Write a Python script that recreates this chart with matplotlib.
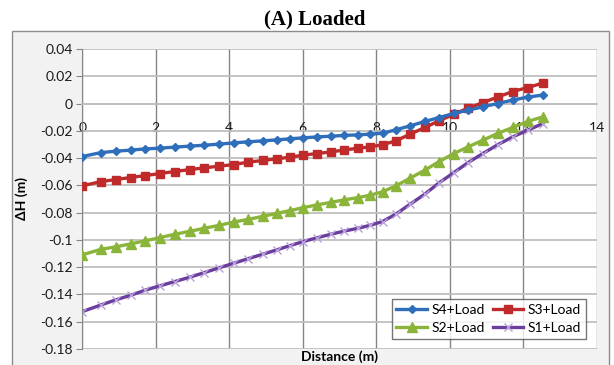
#!/usr/bin/env python3
"""Loaded-case height change along the section for the four stages."""

import matplotlib
matplotlib.use("Agg")
import matplotlib.pyplot as plt
from matplotlib.patches import Rectangle

plt.rcParams["axes.unicode_minus"] = False
plt.rcParams["font.family"] = ["Lato", "DejaVu Sans"]

distance = [0, 0.51, 0.91, 1.32, 1.71, 2.11, 2.51, 2.92, 3.32, 3.72, 4.12,
            4.52, 4.91, 5.29, 5.65, 6.01, 6.39, 6.77, 7.13, 7.51, 7.83, 8.17,
            8.53, 8.92, 9.32, 9.71, 10.11, 10.5, 10.9, 11.3, 11.71, 12.12, 12.53]

s4_load = [-0.0389, -0.0360, -0.0350, -0.0342, -0.0333, -0.0328, -0.0320,
           -0.0313, -0.0306, -0.0298, -0.0289, -0.0281, -0.0274, -0.0267,
           -0.0259, -0.0252, -0.0245, -0.0240, -0.0234, -0.0230, -0.0225,
           -0.0218, -0.0193, -0.0164, -0.0132, -0.0103, -0.0073, -0.0049,
           -0.0024, 0.0000, 0.0025, 0.0047, 0.0062]

s3_load = [-0.0604, -0.0573, -0.0558, -0.0543, -0.0529, -0.0514, -0.0499,
           -0.0485, -0.0472, -0.0460, -0.0448, -0.0430, -0.0418, -0.0406,
           -0.0394, -0.0379, -0.0367, -0.0355, -0.0341, -0.0328, -0.0318,
           -0.0303, -0.0274, -0.0225, -0.0176, -0.0127, -0.0078, -0.0034,
           0.0007, 0.0047, 0.0088, 0.0117, 0.0150]

s2_load = [-0.1110, -0.1070, -0.1052, -0.1030, -0.1008, -0.0984, -0.0960,
           -0.0938, -0.0916, -0.0894, -0.0870, -0.0850, -0.0828, -0.0806,
           -0.0786, -0.0764, -0.0744, -0.0725, -0.0707, -0.0690, -0.0673,
           -0.0648, -0.0604, -0.0548, -0.0489, -0.0426, -0.0367, -0.0318,
           -0.0269, -0.0220, -0.0176, -0.0132, -0.0098]

s1_load = [-0.1527, -0.1478, -0.1441, -0.1407, -0.1370, -0.1338, -0.1307,
           -0.1275, -0.1241, -0.1206, -0.1172, -0.1138, -0.1106, -0.1074,
           -0.1043, -0.1013, -0.0985, -0.0959, -0.0936, -0.0915, -0.0894,
           -0.0866, -0.0812, -0.0739, -0.0665, -0.0582, -0.0507, -0.0433,
           -0.0367, -0.0303, -0.0245, -0.0196, -0.0147]

x_ticks = [0, 2, 4, 6, 8, 10, 12, 14]
y_ticks = [0.04, 0.02, 0, -0.02, -0.04, -0.06, -0.08, -0.1, -0.12, -0.14,
           -0.16, -0.18]
y_tick_labels = ["0.04", "0.02", "0", "-0.02", "-0.04", "-0.06", "-0.08",
                 "-0.1", "-0.12", "-0.14", "-0.16", "-0.18"]

W, H = 614, 365
fig = plt.figure(figsize=(W / 100, H / 100), dpi=100)
fig.patch.set_facecolor("white")

# grey chart area with its border, kept behind the axes
fig.patches.append(Rectangle((12 / W, -0.01), 597 / W, 1 - 31 / H + 0.01,
                             transform=fig.transFigure, facecolor="#f2f2f2",
                             edgecolor="#8c8c8c", linewidth=1.0, zorder=-5))

left, right, top, bottom = 82.3, 596.8, 49.0, 348.8
ax = fig.add_axes([left / W, 1 - bottom / H, (right - left) / W,
                   (bottom - top) / H])
ax.set_zorder(2)
ax.set_facecolor("white")

l4, = ax.plot(distance, s4_load, color="#2f6eba", lw=2.4, marker="D", ms=4.2,
              mec="#2f6eba", label="S4+Load", zorder=5)
l3, = ax.plot(distance, s3_load, color="#bf2b2b", lw=2.4, marker="s", ms=5.6,
              mec="#bf2b2b", label="S3+Load", zorder=4)
l2, = ax.plot(distance, s2_load, color="#8ab43a", lw=2.4, marker="^", ms=7,
              mec="#8ab43a", label="S2+Load", zorder=3)
l1, = ax.plot(distance, s1_load, color="#6a3d9e", lw=2.4, marker="x", ms=6,
              mec="#b9a2d8", mew=1.0, label="S1+Load", zorder=2)

ax.set_xlim(0, 14)
ax.set_ylim(-0.18, 0.04)
ax.set_xticks(x_ticks)
ax.set_yticks(y_ticks)
ax.set_yticklabels(y_tick_labels)

ax.grid(True, axis="y", color="#bfbfbf", lw=1.3, zorder=0)
ax.grid(True, axis="x", color="#858585", lw=1.0, zorder=0)
ax.set_axisbelow(True)

for side in ["top", "right"]:
    ax.spines[side].set_visible(False)
ax.spines["left"].set_color("#868686")
ax.spines["bottom"].set_position(("data", 0))
ax.spines["bottom"].set_color("#bfbfbf")
ax.spines["bottom"].set_linewidth(1.3)

ax.tick_params(axis="y", direction="out", length=4, color="#868686",
               pad=3, labelsize=10, labelcolor="#1a1a1a")
ax.tick_params(axis="x", length=0, pad=13, labelsize=10, labelcolor="#1a1a1a")

ax.set_xlabel("Distance (m)", fontsize=10, fontweight="bold")
ax.xaxis.set_label_coords(0.5, -0.005)
ax.xaxis.label.set_va("top")
ax.set_ylabel("ΔH (m)", fontsize=10, fontweight="bold")
ax.yaxis.set_label_coords(-0.105, 0.5)

# two columns, filled row by row: S4 S3 / S2 S1
leg = ax.legend([l4, l2, l3, l1], ["S4+Load", "S2+Load", "S3+Load", "S1+Load"],
                ncol=2, loc="lower right", bbox_to_anchor=(0.984, 0.025),
                fontsize=10, frameon=True, fancybox=False, handlelength=2.2,
                columnspacing=0.6, handletextpad=0.3, borderpad=0.35,
                labelspacing=0.4, borderaxespad=0.2)
leg.get_frame().set_edgecolor("#555555")
leg.get_frame().set_linewidth(1.0)
leg.get_frame().set_facecolor("white")

fig.text(0.512, 1 - 19 / H, "(A) Loaded", ha="center", va="center",
         fontsize=15, fontweight="bold", family="Liberation Serif")

fig.savefig("out.png", dpi=100)
